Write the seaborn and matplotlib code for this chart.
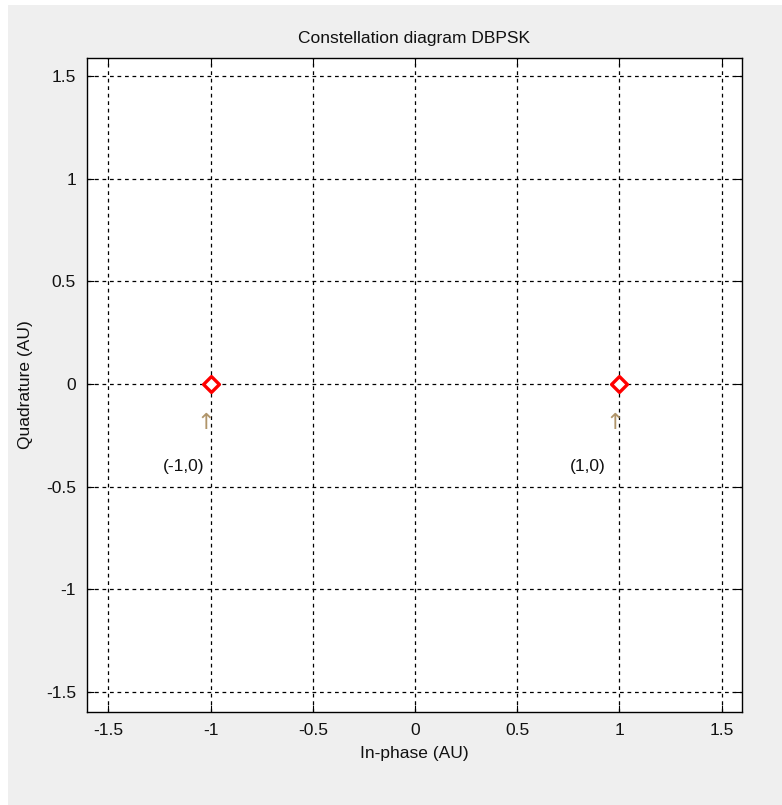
import matplotlib
matplotlib.use("Agg")
import matplotlib.pyplot as plt
from matplotlib.patches import Rectangle
import seaborn as sns
import pandas as pd

# Constellation points for DBPSK
in_phase = [-1.0, 1.0]
quadrature = [0.0, 0.0]
point_labels = ["(-1,0)", "(1,0)"]
ticks = [-1.5, -1, -0.5, 0, 0.5, 1, 1.5]
tick_labels = ["-1.5", "-1", "-0.5", "0", "0.5", "1", "1.5"]

df = pd.DataFrame({"I": in_phase, "Q": quadrature, "label": point_labels})

sns.set_theme(style="white")
plt.rcParams["font.family"] = ["Liberation Sans", "DejaVu Sans"]

fig = plt.figure(figsize=(7.82, 8.05), dpi=100, facecolor="white")
# grey window panel behind the axes
fig.add_artist(Rectangle((8 / 782, 0), 1 - 8 / 782, 800 / 805,
                         transform=fig.transFigure, facecolor="#efefef",
                         edgecolor="none", zorder=-10))
ax = fig.add_axes([87 / 782, 93 / 805, 655 / 782, 654 / 805])
ax.set_zorder(1)
ax.set_facecolor("white")

ax.set_xlim(-1.605, 1.6)
ax.set_ylim(-1.598, 1.588)
ax.set_xticks(ticks)
ax.set_yticks(ticks)
ax.set_xticklabels(tick_labels)
ax.set_yticklabels(tick_labels)
ax.grid(True, color="black", linestyle=(0, (3, 3)), linewidth=0.9)
ax.set_axisbelow(True)

sns.scatterplot(data=df, x="I", y="Q", marker="D", s=65, facecolor="white",
                edgecolor="red", linewidth=2.4, ax=ax, zorder=5)

for _, row in df.iterrows():
    ax.text(row["I"] - 0.025, row["Q"] - 0.19, "\u2191", color="#b0956a",
            fontsize=16, ha="center", va="center", family=["DejaVu Sans"])
    ax.text(row["I"] - 0.13 if row["I"] < 0 else row["I"] - 0.155,
            row["Q"] - 0.40, row["label"], fontsize=12.5, ha="center",
            va="center", color="#111111")

for s in ax.spines.values():
    s.set_color("black")
    s.set_linewidth(1.0)
    s.set_visible(True)

ax.tick_params(direction="in", length=5, width=0.8, colors="black",
               labelsize=12.5, top=True, right=True, bottom=True, left=True,
               pad=8)
for lbl in ax.get_xticklabels() + ax.get_yticklabels():
    lbl.set_color("#111111")

ax.set_title("Constellation diagram DBPSK", fontsize=12.5, pad=11, color="#111111")
ax.set_xlabel("In-phase (AU)", fontsize=12.5, labelpad=6, color="#111111")
ax.set_ylabel("Quadrature (AU)", fontsize=12.5, labelpad=9, color="#111111")

fig.savefig("out.png", dpi=100, facecolor=fig.get_facecolor())
